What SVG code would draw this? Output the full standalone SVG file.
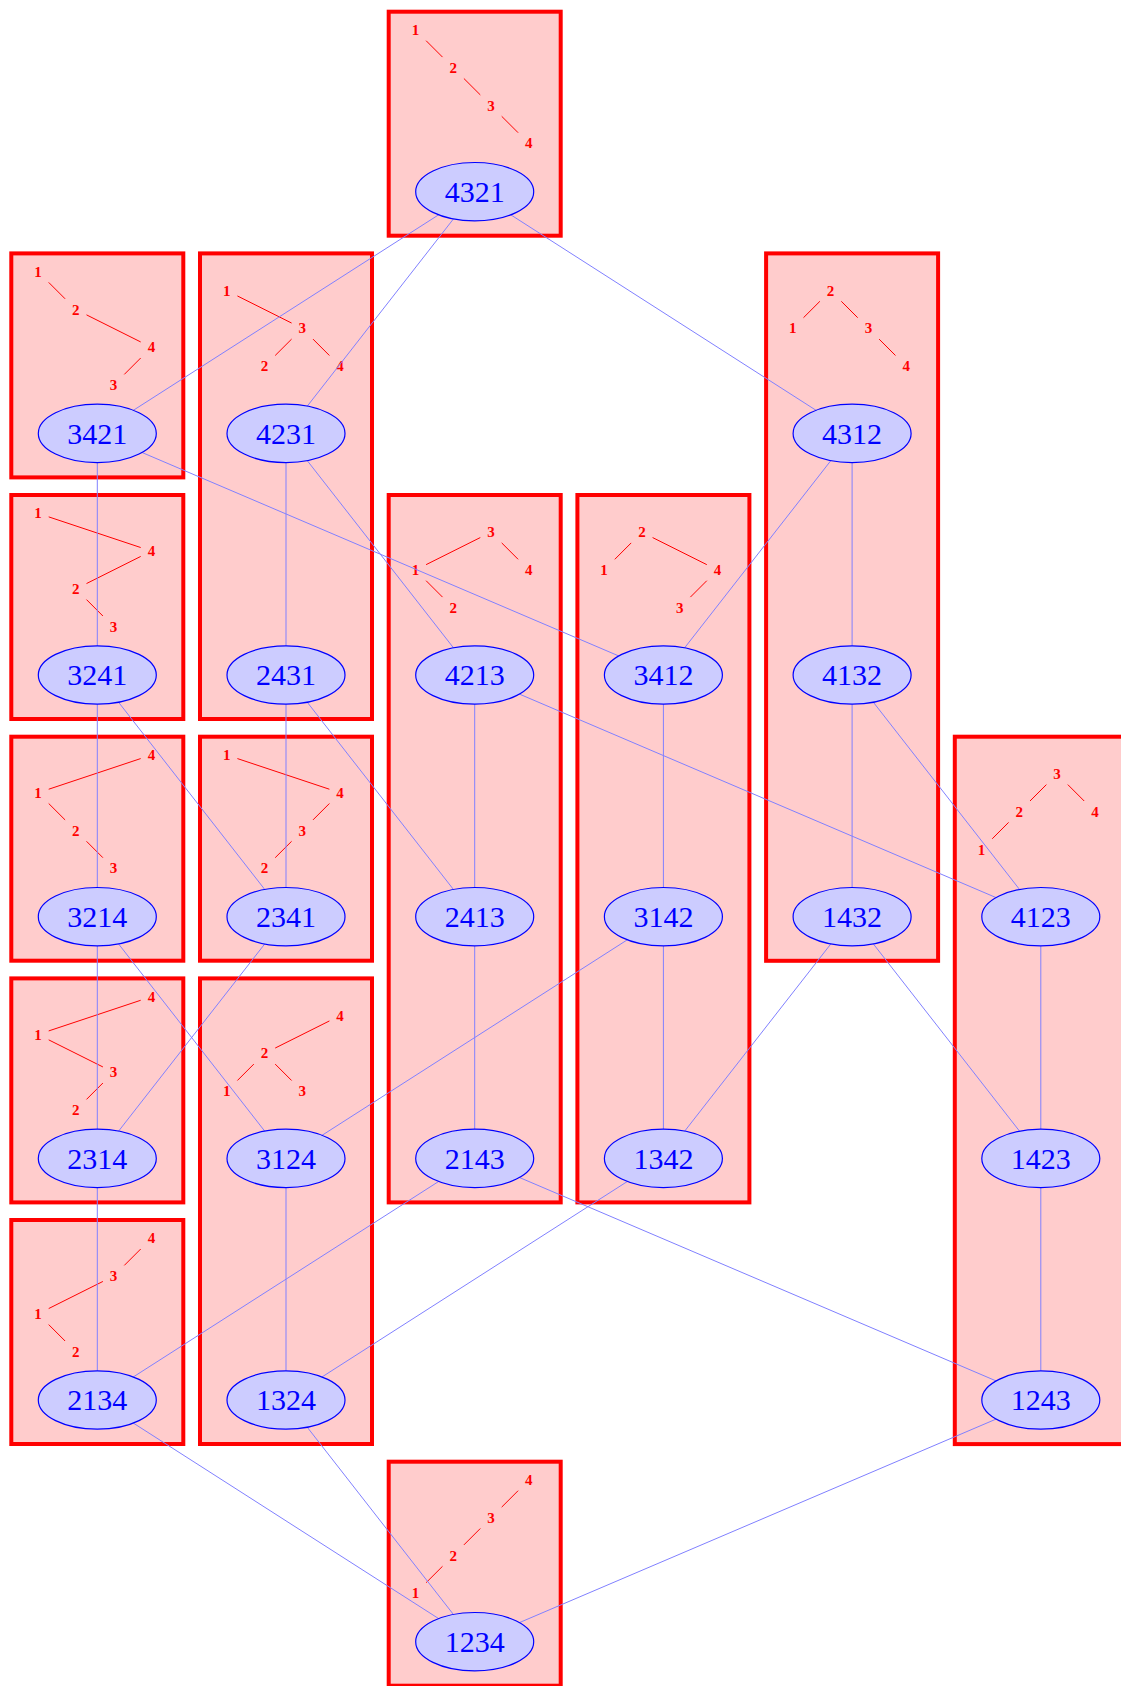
<svg xmlns="http://www.w3.org/2000/svg" width="1121" height="1686" viewBox="0 0 1121 1686">
<style>
.box{fill:#ffcccc;stroke:#ff0000;stroke-width:4}
.tl{font-family:"Liberation Serif",serif;font-weight:bold;font-size:15px;fill:#ff0000;text-anchor:middle}
.te{stroke:#ff0000;stroke-width:1;fill:none}
.e{stroke:#8080ff;stroke-width:1;fill:none}
.nd{fill:#ccccff;stroke:#0000ff;stroke-width:1.2}
.nt{font-family:"Liberation Serif",serif;font-size:30px;fill:#0000ff;text-anchor:middle}
</style>
<rect width="1121" height="1686" fill="#ffffff"/>
<g id="boxes">
<g id="box-4321" transform="translate(474.7,191.7)">
<rect class="box" x="-86" y="-180" width="172" height="224"/>
<text class="tl" x="-59.3" y="-156.7">1</text><text class="tl" x="-21.5" y="-118.9">2</text><text class="tl" x="16.3" y="-81.1">3</text><text class="tl" x="54.1" y="-43.3">4</text>
<line class="te" x1="-48.6" y1="-151" x2="-32.2" y2="-134.6"/><line class="te" x1="-10.8" y1="-113.2" x2="5.6" y2="-96.8"/><line class="te" x1="27" y1="-75.4" x2="43.4" y2="-59"/>
</g>
<g id="box-3421" transform="translate(97.3,433.4)">
<rect class="box" x="-86" y="-180" width="172" height="224"/>
<text class="tl" x="-59.3" y="-156.7">1</text><text class="tl" x="-21.5" y="-118.9">2</text><text class="tl" x="54.1" y="-81.1">4</text><text class="tl" x="16.3" y="-43.3">3</text>
<line class="te" x1="-48.6" y1="-151" x2="-32.2" y2="-134.6"/><line class="te" x1="-10.8" y1="-118.55" x2="43.4" y2="-91.45"/><line class="te" x1="43.4" y1="-75.4" x2="27" y2="-59"/>
</g>
<g id="box-3241" transform="translate(97.3,675)">
<rect class="box" x="-86" y="-180" width="172" height="224"/>
<text class="tl" x="-59.3" y="-156.7">1</text><text class="tl" x="54.1" y="-118.9">4</text><text class="tl" x="-21.5" y="-81.1">2</text><text class="tl" x="16.3" y="-43.3">3</text>
<line class="te" x1="-48.6" y1="-158.13" x2="43.4" y2="-127.47"/><line class="te" x1="43.4" y1="-118.55" x2="-10.8" y2="-91.45"/><line class="te" x1="-10.8" y1="-75.4" x2="5.6" y2="-59"/>
</g>
<g id="box-3214" transform="translate(97.3,916.7)">
<rect class="box" x="-86" y="-180" width="172" height="224"/>
<text class="tl" x="54.1" y="-156.7">4</text><text class="tl" x="-59.3" y="-118.9">1</text><text class="tl" x="-21.5" y="-81.1">2</text><text class="tl" x="16.3" y="-43.3">3</text>
<line class="te" x1="43.4" y1="-158.13" x2="-48.6" y2="-127.47"/><line class="te" x1="-48.6" y1="-113.2" x2="-32.2" y2="-96.8"/><line class="te" x1="-10.8" y1="-75.4" x2="5.6" y2="-59"/>
</g>
<g id="box-2314" transform="translate(97.3,1158.4)">
<rect class="box" x="-86" y="-180" width="172" height="224"/>
<text class="tl" x="54.1" y="-156.7">4</text><text class="tl" x="-59.3" y="-118.9">1</text><text class="tl" x="16.3" y="-81.1">3</text><text class="tl" x="-21.5" y="-43.3">2</text>
<line class="te" x1="43.4" y1="-158.13" x2="-48.6" y2="-127.47"/><line class="te" x1="-48.6" y1="-118.55" x2="5.6" y2="-91.45"/><line class="te" x1="5.6" y1="-75.4" x2="-10.8" y2="-59"/>
</g>
<g id="box-2134" transform="translate(97.3,1400)">
<rect class="box" x="-86" y="-180" width="172" height="224"/>
<text class="tl" x="54.1" y="-156.7">4</text><text class="tl" x="16.3" y="-118.9">3</text><text class="tl" x="-59.3" y="-81.1">1</text><text class="tl" x="-21.5" y="-43.3">2</text>
<line class="te" x1="43.4" y1="-151" x2="27" y2="-134.6"/><line class="te" x1="5.6" y1="-118.55" x2="-48.6" y2="-91.45"/><line class="te" x1="-48.6" y1="-75.4" x2="-32.2" y2="-59"/>
</g>
<g id="box-4231-2431" transform="translate(286,433.4)">
<rect class="box" x="-86" y="-180" width="172" height="465.6"/>
<text class="tl" x="-59.3" y="-137.8">1</text><text class="tl" x="16.3" y="-100">3</text><text class="tl" x="-21.5" y="-62.2">2</text><text class="tl" x="54.1" y="-62.2">4</text>
<line class="te" x1="-48.6" y1="-137.45" x2="5.6" y2="-110.35"/><line class="te" x1="5.6" y1="-94.3" x2="-10.8" y2="-77.9"/><line class="te" x1="27" y1="-94.3" x2="43.4" y2="-77.9"/>
</g>
<g id="box-2341" transform="translate(286,916.7)">
<rect class="box" x="-86" y="-180" width="172" height="224"/>
<text class="tl" x="-59.3" y="-156.7">1</text><text class="tl" x="54.1" y="-118.9">4</text><text class="tl" x="16.3" y="-81.1">3</text><text class="tl" x="-21.5" y="-43.3">2</text>
<line class="te" x1="-48.6" y1="-158.13" x2="43.4" y2="-127.47"/><line class="te" x1="43.4" y1="-113.2" x2="27" y2="-96.8"/><line class="te" x1="5.6" y1="-75.4" x2="-10.8" y2="-59"/>
</g>
<g id="box-3124-1324" transform="translate(286,1158.4)">
<rect class="box" x="-86" y="-180" width="172" height="465.6"/>
<text class="tl" x="54.1" y="-137.8">4</text><text class="tl" x="-21.5" y="-100">2</text><text class="tl" x="-59.3" y="-62.2">1</text><text class="tl" x="16.3" y="-62.2">3</text>
<line class="te" x1="43.4" y1="-137.45" x2="-10.8" y2="-110.35"/><line class="te" x1="-32.2" y1="-94.3" x2="-48.6" y2="-77.9"/><line class="te" x1="-10.8" y1="-94.3" x2="5.6" y2="-77.9"/>
</g>
<g id="box-4213-2413-2143" transform="translate(474.7,675)">
<rect class="box" x="-86" y="-180" width="172" height="707.4"/>
<text class="tl" x="16.3" y="-137.8">3</text><text class="tl" x="-59.3" y="-100">1</text><text class="tl" x="54.1" y="-100">4</text><text class="tl" x="-21.5" y="-62.2">2</text>
<line class="te" x1="5.6" y1="-137.45" x2="-48.6" y2="-110.35"/><line class="te" x1="27" y1="-132.1" x2="43.4" y2="-115.7"/><line class="te" x1="-48.6" y1="-94.3" x2="-32.2" y2="-77.9"/>
</g>
<g id="box-1234" transform="translate(474.7,1641.7)">
<rect class="box" x="-86" y="-180" width="172" height="224"/>
<text class="tl" x="54.1" y="-156.7">4</text><text class="tl" x="16.3" y="-118.9">3</text><text class="tl" x="-21.5" y="-81.1">2</text><text class="tl" x="-59.3" y="-43.3">1</text>
<line class="te" x1="43.4" y1="-151" x2="27" y2="-134.6"/><line class="te" x1="5.6" y1="-113.2" x2="-10.8" y2="-96.8"/><line class="te" x1="-32.2" y1="-75.4" x2="-48.6" y2="-59"/>
</g>
<g id="box-3412-3142-1342" transform="translate(663.4,675)">
<rect class="box" x="-86" y="-180" width="172" height="707.4"/>
<text class="tl" x="-21.5" y="-137.8">2</text><text class="tl" x="-59.3" y="-100">1</text><text class="tl" x="54.1" y="-100">4</text><text class="tl" x="16.3" y="-62.2">3</text>
<line class="te" x1="-32.2" y1="-132.1" x2="-48.6" y2="-115.7"/><line class="te" x1="-10.8" y1="-137.45" x2="43.4" y2="-110.35"/><line class="te" x1="43.4" y1="-94.3" x2="27" y2="-77.9"/>
</g>
<g id="box-4312-4132-1432" transform="translate(852.1,433.4)">
<rect class="box" x="-86" y="-180" width="172" height="707.4"/>
<text class="tl" x="-21.5" y="-137.8">2</text><text class="tl" x="-59.3" y="-100">1</text><text class="tl" x="16.3" y="-100">3</text><text class="tl" x="54.1" y="-62.2">4</text>
<line class="te" x1="-32.2" y1="-132.1" x2="-48.6" y2="-115.7"/><line class="te" x1="-10.8" y1="-132.1" x2="5.6" y2="-115.7"/><line class="te" x1="27" y1="-94.3" x2="43.4" y2="-77.9"/>
</g>
<g id="box-4123-1423-1243" transform="translate(1040.8,916.7)">
<rect class="box" x="-86" y="-180" width="172" height="707.4"/>
<text class="tl" x="16.3" y="-137.8">3</text><text class="tl" x="-21.5" y="-100">2</text><text class="tl" x="54.1" y="-100">4</text><text class="tl" x="-59.3" y="-62.2">1</text>
<line class="te" x1="5.6" y1="-132.1" x2="-10.8" y2="-115.7"/><line class="te" x1="27" y1="-132.1" x2="43.4" y2="-115.7"/><line class="te" x1="-32.2" y1="-94.3" x2="-48.6" y2="-77.9"/>
</g>
</g>
<g id="connectors">
<line class="e" x1="474.7" y1="191.7" x2="97.3" y2="433.4"/>
<line class="e" x1="474.7" y1="191.7" x2="286" y2="433.4"/>
<line class="e" x1="474.7" y1="191.7" x2="852.1" y2="433.4"/>
<line class="e" x1="97.3" y1="433.4" x2="97.3" y2="675"/>
<line class="e" x1="97.3" y1="433.4" x2="663.4" y2="675"/>
<line class="e" x1="286" y1="433.4" x2="286" y2="675"/>
<line class="e" x1="286" y1="433.4" x2="474.7" y2="675"/>
<line class="e" x1="852.1" y1="433.4" x2="663.4" y2="675"/>
<line class="e" x1="852.1" y1="433.4" x2="852.1" y2="675"/>
<line class="e" x1="97.3" y1="675" x2="97.3" y2="916.7"/>
<line class="e" x1="97.3" y1="675" x2="286" y2="916.7"/>
<line class="e" x1="286" y1="675" x2="286" y2="916.7"/>
<line class="e" x1="286" y1="675" x2="474.7" y2="916.7"/>
<line class="e" x1="474.7" y1="675" x2="474.7" y2="916.7"/>
<line class="e" x1="474.7" y1="675" x2="1040.8" y2="916.7"/>
<line class="e" x1="663.4" y1="675" x2="663.4" y2="916.7"/>
<line class="e" x1="852.1" y1="675" x2="852.1" y2="916.7"/>
<line class="e" x1="852.1" y1="675" x2="1040.8" y2="916.7"/>
<line class="e" x1="97.3" y1="916.7" x2="97.3" y2="1158.4"/>
<line class="e" x1="97.3" y1="916.7" x2="286" y2="1158.4"/>
<line class="e" x1="286" y1="916.7" x2="97.3" y2="1158.4"/>
<line class="e" x1="474.7" y1="916.7" x2="474.7" y2="1158.4"/>
<line class="e" x1="663.4" y1="916.7" x2="286" y2="1158.4"/>
<line class="e" x1="663.4" y1="916.7" x2="663.4" y2="1158.4"/>
<line class="e" x1="852.1" y1="916.7" x2="663.4" y2="1158.4"/>
<line class="e" x1="852.1" y1="916.7" x2="1040.8" y2="1158.4"/>
<line class="e" x1="1040.8" y1="916.7" x2="1040.8" y2="1158.4"/>
<line class="e" x1="97.3" y1="1158.4" x2="97.3" y2="1400"/>
<line class="e" x1="286" y1="1158.4" x2="286" y2="1400"/>
<line class="e" x1="474.7" y1="1158.4" x2="97.3" y2="1400"/>
<line class="e" x1="474.7" y1="1158.4" x2="1040.8" y2="1400"/>
<line class="e" x1="663.4" y1="1158.4" x2="286" y2="1400"/>
<line class="e" x1="1040.8" y1="1158.4" x2="1040.8" y2="1400"/>
<line class="e" x1="97.3" y1="1400" x2="474.7" y2="1641.7"/>
<line class="e" x1="286" y1="1400" x2="474.7" y2="1641.7"/>
<line class="e" x1="1040.8" y1="1400" x2="474.7" y2="1641.7"/>
</g>
<g id="nodes">
<g id="n4321"><ellipse class="nd" cx="474.7" cy="191.7" rx="59" ry="29.2"/><text class="nt" x="474.7" y="202">4321</text></g>
<g id="n3421"><ellipse class="nd" cx="97.3" cy="433.4" rx="59" ry="29.2"/><text class="nt" x="97.3" y="443.7">3421</text></g>
<g id="n4231"><ellipse class="nd" cx="286" cy="433.4" rx="59" ry="29.2"/><text class="nt" x="286" y="443.7">4231</text></g>
<g id="n4312"><ellipse class="nd" cx="852.1" cy="433.4" rx="59" ry="29.2"/><text class="nt" x="852.1" y="443.7">4312</text></g>
<g id="n3241"><ellipse class="nd" cx="97.3" cy="675" rx="59" ry="29.2"/><text class="nt" x="97.3" y="685.3">3241</text></g>
<g id="n2431"><ellipse class="nd" cx="286" cy="675" rx="59" ry="29.2"/><text class="nt" x="286" y="685.3">2431</text></g>
<g id="n4213"><ellipse class="nd" cx="474.7" cy="675" rx="59" ry="29.2"/><text class="nt" x="474.7" y="685.3">4213</text></g>
<g id="n3412"><ellipse class="nd" cx="663.4" cy="675" rx="59" ry="29.2"/><text class="nt" x="663.4" y="685.3">3412</text></g>
<g id="n4132"><ellipse class="nd" cx="852.1" cy="675" rx="59" ry="29.2"/><text class="nt" x="852.1" y="685.3">4132</text></g>
<g id="n3214"><ellipse class="nd" cx="97.3" cy="916.7" rx="59" ry="29.2"/><text class="nt" x="97.3" y="927">3214</text></g>
<g id="n2341"><ellipse class="nd" cx="286" cy="916.7" rx="59" ry="29.2"/><text class="nt" x="286" y="927">2341</text></g>
<g id="n2413"><ellipse class="nd" cx="474.7" cy="916.7" rx="59" ry="29.2"/><text class="nt" x="474.7" y="927">2413</text></g>
<g id="n3142"><ellipse class="nd" cx="663.4" cy="916.7" rx="59" ry="29.2"/><text class="nt" x="663.4" y="927">3142</text></g>
<g id="n1432"><ellipse class="nd" cx="852.1" cy="916.7" rx="59" ry="29.2"/><text class="nt" x="852.1" y="927">1432</text></g>
<g id="n4123"><ellipse class="nd" cx="1040.8" cy="916.7" rx="59" ry="29.2"/><text class="nt" x="1040.8" y="927">4123</text></g>
<g id="n2314"><ellipse class="nd" cx="97.3" cy="1158.4" rx="59" ry="29.2"/><text class="nt" x="97.3" y="1168.7">2314</text></g>
<g id="n3124"><ellipse class="nd" cx="286" cy="1158.4" rx="59" ry="29.2"/><text class="nt" x="286" y="1168.7">3124</text></g>
<g id="n2143"><ellipse class="nd" cx="474.7" cy="1158.4" rx="59" ry="29.2"/><text class="nt" x="474.7" y="1168.7">2143</text></g>
<g id="n1342"><ellipse class="nd" cx="663.4" cy="1158.4" rx="59" ry="29.2"/><text class="nt" x="663.4" y="1168.7">1342</text></g>
<g id="n1423"><ellipse class="nd" cx="1040.8" cy="1158.4" rx="59" ry="29.2"/><text class="nt" x="1040.8" y="1168.7">1423</text></g>
<g id="n2134"><ellipse class="nd" cx="97.3" cy="1400" rx="59" ry="29.2"/><text class="nt" x="97.3" y="1410.3">2134</text></g>
<g id="n1324"><ellipse class="nd" cx="286" cy="1400" rx="59" ry="29.2"/><text class="nt" x="286" y="1410.3">1324</text></g>
<g id="n1243"><ellipse class="nd" cx="1040.8" cy="1400" rx="59" ry="29.2"/><text class="nt" x="1040.8" y="1410.3">1243</text></g>
<g id="n1234"><ellipse class="nd" cx="474.7" cy="1641.7" rx="59" ry="29.2"/><text class="nt" x="474.7" y="1652">1234</text></g>
</g>
</svg>
